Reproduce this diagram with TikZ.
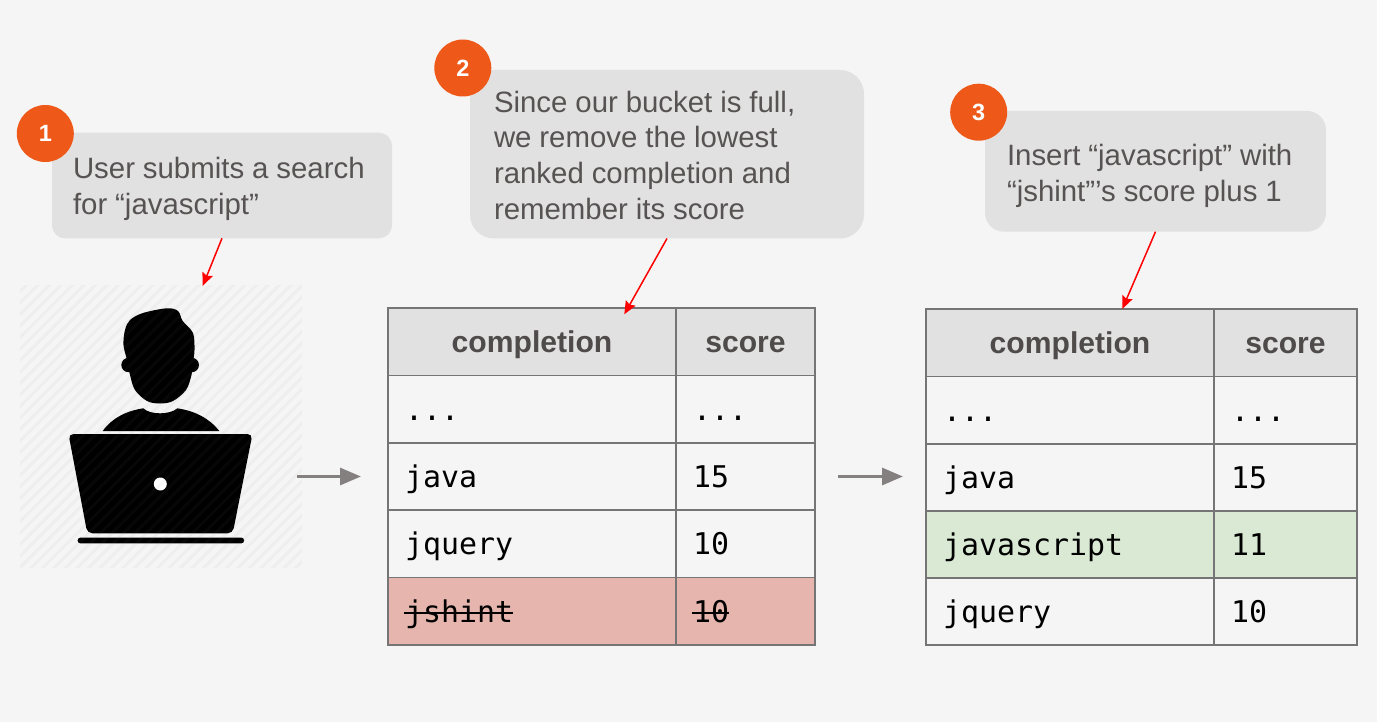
\documentclass[tikz,border=0pt]{standalone}
\usepackage{fontspec}
\setmainfont{Liberation Sans}
\newfontfamily\codefont{DejaVu Sans Mono}
\usetikzlibrary{arrows.meta}
\definecolor{bgc}{HTML}{F5F5F5}
\definecolor{bubblec}{HTML}{E1E1E1}
\definecolor{textc}{HTML}{575353}
\definecolor{headc}{HTML}{4F4B4B}
\definecolor{orangec}{HTML}{EE5819}
\definecolor{linec}{HTML}{757575}
\definecolor{arrowc}{HTML}{858080}
\definecolor{redc}{HTML}{E6B6AE}
\definecolor{greenc}{HTML}{D9E9D3}
\newcommand{\upr}[1]{\rule{0pt}{#1pt}}
\newcommand{\dnr}[1]{\rule[-#1pt]{0pt}{#1pt}}
\newcommand{\strk}[1]{\makebox[0pt][l]{\hspace{-1pt}\rule[8.6pt]{#1pt}{1.8pt}}}
\tikzset{
  bubble/.style={anchor=north west, fill=bubblec, text=textc, inner ysep=0pt, outer sep=0pt,
    align=left, font=\fontsize{29.4}{35.7}\selectfont,
    execute at begin node={\spaceskip=7.9pt\relax}},
  badge/.style={circle, fill=orangec, text=white, inner sep=0pt, minimum size=57pt,
    font=\fontsize{23.5}{25}\bfseries\selectfont},
  tcell/.style={anchor=north west, draw=linec, line width=1.6pt, inner ysep=0pt, outer sep=0pt,
    minimum height=67.4pt, text height=44.7pt, text depth=22.7pt},
  headcell/.style={tcell, fill=bubblec, text=headc, align=center,
    font=\fontsize{30.1}{32}\bfseries\selectfont},
  bodycell/.style={tcell, inner xsep=17pt, align=left, text=black,
    font=\fontsize{29.9}{32}\codefont},
  colA/.style={minimum width=288pt},
  colB/.style={minimum width=139pt},
  colC/.style={minimum width=143pt},
  redarrow/.style={draw=red, line width=1.5pt, -{Stealth[length=13pt,width=11pt,inset=2pt]}},
  grayarrow/.style={draw=arrowc, line width=3pt, -{Triangle[length=21pt,width=17pt]}},
  hatchline/.style={draw=gray, opacity=.055, line width=3pt},
  icon/.style={fill=black, draw=none},
}
\begin{document}
\begin{tikzpicture}[x=1pt,y=-1pt]
\useasboundingbox (0,0) rectangle (1377,722);
\fill[bgc] (0,0) rectangle (1377,722);

% user icon
\fill[icon] plot[smooth cycle, tension=.55] coordinates {
  (166.7,308.3) (178,311) (182.7,321) (193,333) (194.5,350) (193,362) (191.5,375)
  (186,390) (173,401) (160,403.5) (147,401) (135,390) (130,375) (127,360) (123.5,345)
  (125,330) (130,320) (143,313)};
\fill[icon] (128.5,365) circle (7.2);
\fill[icon] (191.8,365) circle (7.2);
\fill[icon] (102.7,431) .. controls (112,418) and (126,411) .. (143.3,408.3)
  .. controls (150,415) and (170,415) .. (177.3,408.3)
  .. controls (195,411) and (209,418) .. (219.3,431) -- cycle;
\fill[icon, rounded corners=5pt] (68.5,434) -- (252.5,434) -- (232.7,533.3) -- (87.3,533.3) -- cycle;
\fill[white] (160.3,484) circle (6.5);
\fill[icon, rounded corners=2.5pt] (77.7,537.7) rectangle (244,543.3);
\begin{scope}
  \clip (20,286) rectangle (302,567);
  \foreach \k in {0,...,50} {
    \draw[hatchline] ({20+11.5*\k},{286-6}) -- ({20+11.5*\k-295},{286+289});
  }
\end{scope}
\node[minimum width=282pt, minimum height=281pt, inner sep=0pt, outer sep=0pt, anchor=north west] (user) at (20,286) {};

% bubbles
\node[bubble, rounded corners=13pt, minimum width=340pt, inner xsep=21pt, text width=298pt] (b1) at (52,132.7)
  {\upr{46}User submits a search\\for “javascript”\dnr{23.9}};
\node[bubble, rounded corners=24pt, minimum width=394pt, inner xsep=24pt, text width=346pt] (b2) at (470,70)
  {\upr{42.2}Since our bucket is full,\\we remove the lowest\\ranked completion and\\remember its score\dnr{19.2}};
\node[bubble, rounded corners=19pt, minimum width=341pt, inner xsep=22pt, text width=297pt] (b3) at (985,111)
  {\upr{54.5}Insert “javascript” with\\“jshint”’s score plus 1\dnr{30.5}};

% badges
\node[badge] (n1) at (45.3,133.5) {1};
\node[badge] (n2) at (462.8,68) {2};
\node[badge] (n3) at (978.7,112.2) {3};

% table one
\node[headcell, colA] (a00) at (388,308) {completion};
\node[headcell, colB] (a01) at (676,308) {score};
\node[bodycell, colA, text width=254pt] (a10) at (388,375.3) {...};
\node[bodycell, colB, text width=105pt] (a11) at (676,375.3) {...};
\node[bodycell, colA, text width=254pt] (a20) at (388,442.7) {java};
\node[bodycell, colB, text width=105pt] (a21) at (676,442.7) {15};
\node[bodycell, colA, text width=254pt] (a30) at (388,510) {jquery};
\node[bodycell, colB, text width=105pt] (a31) at (676,510) {10};
\node[bodycell, colA, text width=254pt, fill=redc] (a40) at (388,577.4) {\strk{109}jshint};
\node[bodycell, colB, text width=105pt, fill=redc] (a41) at (676,577.4) {\strk{37}10};

% table two
\node[headcell, colA] (c00) at (926,309) {completion};
\node[headcell, colC] (c01) at (1214,309) {score};
\node[bodycell, colA, text width=254pt] (c10) at (926,376.3) {...};
\node[bodycell, colC, text width=109pt] (c11) at (1214,376.3) {...};
\node[bodycell, colA, text width=254pt] (c20) at (926,443.7) {java};
\node[bodycell, colC, text width=109pt] (c21) at (1214,443.7) {15};
\node[bodycell, colA, text width=254pt, fill=greenc] (c30) at (926,510.8) {javascript};
\node[bodycell, colC, text width=109pt, fill=greenc] (c31) at (1214,510.8) {11};
\node[bodycell, colA, text width=254pt] (c40) at (926,577.6) {jquery};
\node[bodycell, colC, text width=109pt] (c41) at (1214,577.6) {10};

% connector ends
\coordinate (e1) at (202.7,286);
\coordinate (e2) at (624.3,314.3);
\coordinate (e3) at (1122.3,309);
\coordinate (g1s) at (297,476.5);
\coordinate (g1e) at (361,476.5);
\coordinate (g2s) at (838,476.5);
\coordinate (g2e) at (903,476.5);

\draw[redarrow] (b1.south) -- (e1);
\draw[redarrow] (b2.south) -- (e2);
\draw[redarrow] (b3.south) -- (e3);
\draw[grayarrow] (g1s) -- (g1e);
\draw[grayarrow] (g2s) -- (g2e);
\end{tikzpicture}
\end{document}
